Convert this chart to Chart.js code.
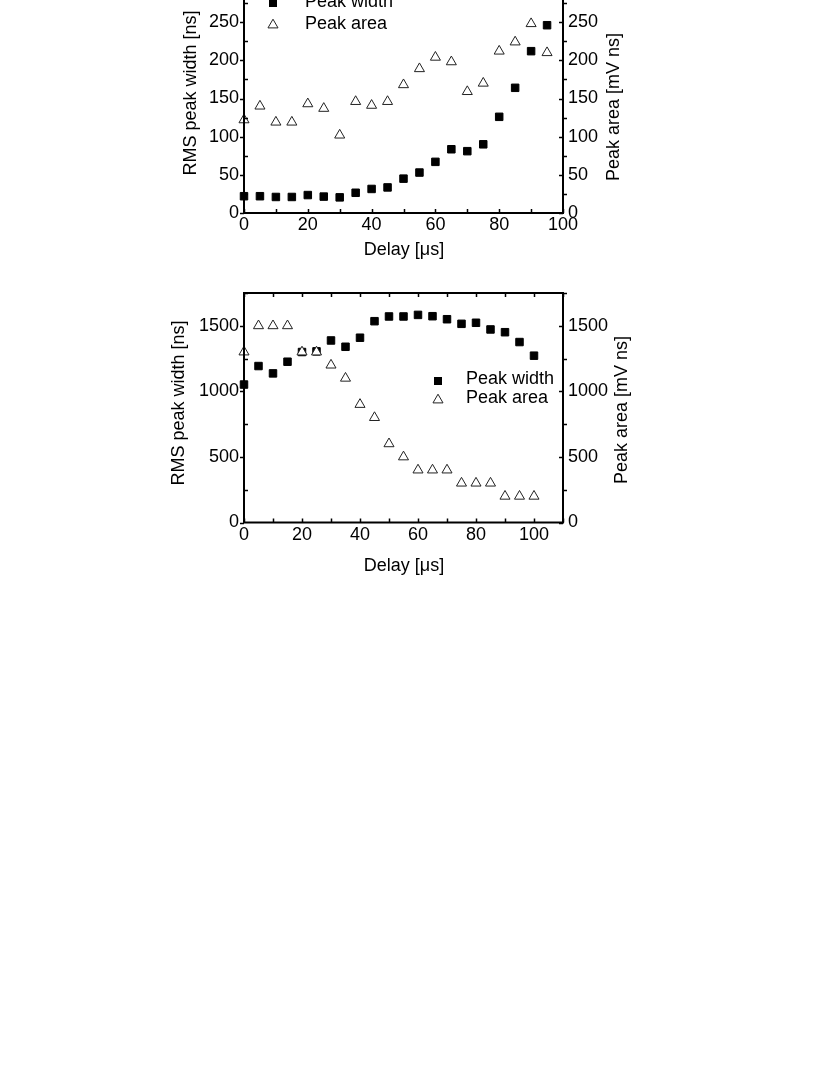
<!DOCTYPE html>
<html><head><meta charset="utf-8">
<script src="https://cdn.jsdelivr.net/npm/chart.js@4/dist/chart.umd.min.js"></script>
<style>
html,body{margin:0;padding:0;background:#fff;width:830px;height:1075px;overflow:hidden;position:relative}
.box{position:absolute;left:0;width:830px}
#c1box{top:-40px;height:320px}
#c2box{top:270px;height:330px}
</style></head><body>
<div class="box" id="c1box"><canvas id="c1"></canvas></div>
<div class="box" id="c2box"><canvas id="c2"></canvas></div>
<script>
// ---- data (top panel) ----
const delays1 = [0,5,10,15,20,25,30,35,40,45,50,55,60,65,70,75,80,85,90,95];
const peakWidth1 = [22,22,21,21,23.5,21.5,20.5,26.5,31.5,33.5,45,53,67,83.5,81,90,126,164,212,246];
const peakArea1 = [122,140,119,119,143,137,102,146,141,146,168,189,204,198,159,170,212,224,248,210];
// ---- data (bottom panel) ----
const delays2 = [0,5,10,15,20,25,30,35,40,45,50,55,60,65,70,75,80,85,90,95,100];
const peakWidth2 = [1052,1193,1137,1226,1300,1305,1388,1340,1409,1535,1571,1571,1583,1573,1550,1515,1523,1472,1451,1376,1272];
const peakArea2 = [1300,1500,1500,1500,1300,1300,1200,1100,900,800,600,500,400,400,400,300,300,300,200,200,200];
// ---- tick labels ----
const xTicks1 = [0,20,40,60,80,100];
const yTicks1 = [0,50,100,150,200,250,300];
const xTicks2 = [0,20,40,60,80,100];
const yTicks2 = [0,500,1000,1500];
// ---- labels ----
const seriesNames = ['Peak width', 'Peak area'];
const xTitle = 'Delay [\u03bcs]';
const yTitle = 'RMS peak width [ns]';
const y2Title = 'Peak area [mV ns]';

const FONT = '"Liberation Sans", Arial, Helvetica, sans-serif';
const tickFont = {family: FONT, size: 18};

function pts(xs, ys){ return xs.map((x,i)=>({x:x, y:ys[i]})); }

function decor(o){
  return {
    id: 'decor',
    afterDatasetsDraw(chart){
      const ctx = chart.ctx, a = chart.chartArea;
      const xs = chart.scales.x, ys = chart.scales.y, y2 = chart.scales.y2;
      ctx.save();
      ctx.strokeStyle = '#000';
      ctx.lineWidth = 1.5;
      ctx.beginPath();
      for (let v = xs.min; v <= xs.max + 1e-9; v += o.xMinor){
        const px = Math.round(xs.getPixelForValue(v)) + 0.5;
        ctx.moveTo(px, a.bottom); ctx.lineTo(px, a.bottom - 4);
        ctx.moveTo(px, a.top); ctx.lineTo(px, a.top + 4);
      }
      for (let v = ys.min; v <= ys.max + 1e-9; v += o.yMinor){
        const major = Math.abs(v / o.yMajor - Math.round(v / o.yMajor)) < 1e-6;
        const py = Math.round(ys.getPixelForValue(v)) + 0.5;
        if (major){ ctx.moveTo(a.left, py); ctx.lineTo(a.left - 4, py); }
        else { ctx.moveTo(a.left, py); ctx.lineTo(a.left + 4, py); }
        const qy = Math.round(y2.getPixelForValue(v)) + 0.5;
        if (major){ ctx.moveTo(a.right, qy); ctx.lineTo(a.right - 4, qy); }
        else { ctx.moveTo(a.right, qy); ctx.lineTo(a.right + 4, qy); }
      }
      ctx.stroke();
      ctx.lineWidth = 2;
      ctx.strokeRect(a.left, a.top, a.right - a.left, a.bottom - a.top);
      ctx.restore();
    },
    afterDraw(chart){
      const ctx = chart.ctx, off = o.offset;
      ctx.save();
      ctx.fillStyle = '#000';
      ctx.font = '18px ' + FONT;
      ctx.textBaseline = 'middle';
      ctx.textAlign = 'center';
      ctx.fillText(xTitle, o.xt[0], o.xt[1] - off);
      ctx.save(); ctx.translate(o.yt[0], o.yt[1] - off); ctx.rotate(-Math.PI/2);
      ctx.fillText(yTitle, 0, 0); ctx.restore();
      ctx.save(); ctx.translate(o.y2t[0], o.y2t[1] - off); ctx.rotate(-Math.PI/2);
      ctx.fillText(y2Title, 0, 0); ctx.restore();
      const L = o.legend;
      ctx.textAlign = 'left';
      ctx.fillStyle = '#000';
      ctx.fillRect(L.mx - 4, L.y1 - off - 4 + L.dy, 8, 8);
      ctx.fillText(seriesNames[0], L.tx, L.y1 - off);
      const ty = L.y2 - off + L.dy, r = 5.8;
      ctx.beginPath();
      ctx.moveTo(L.mx, ty - r);
      ctx.lineTo(L.mx + r*0.866, ty + r/2);
      ctx.lineTo(L.mx - r*0.866, ty + r/2);
      ctx.closePath();
      ctx.fillStyle = '#fff'; ctx.fill();
      ctx.strokeStyle = '#222'; ctx.lineWidth = 1; ctx.stroke();
      ctx.fillStyle = '#000';
      ctx.fillText(seriesNames[1], L.tx, L.y2 - off);
      ctx.restore();
    }
  };
}

function setTicks(arr){ return function(s){ s.ticks = arr.map(v => ({value: v})); }; }

function makeChart(id, xsArr, wArr, aArr, o){
  const yAxis = (pos, w) => ({
    type: 'linear', position: pos, min: 0, max: o.yMax,
    grid: {display: false, drawTicks: false}, border: {display: false},
    ticks: {color: '#000', font: tickFont, padding: 5, callback: v => String(v)},
    afterBuildTicks: setTicks(o.yTicks),
    afterFit(s){ s.width = w; }
  });
  return new Chart(document.getElementById(id), {
    type: 'scatter',
    data: {
      datasets: [
        {label: seriesNames[1], data: pts(xsArr, aArr), yAxisID: 'y2', order: 0,
         pointStyle: 'triangle', pointRadius: 5.8, pointBackgroundColor: '#fff',
         pointBorderColor: '#222', pointBorderWidth: 1, showLine: false, clip: false},
        {label: seriesNames[0], data: pts(xsArr, wArr), yAxisID: 'y', order: 1,
         pointStyle: 'rect', pointRadius: 5.3, pointBackgroundColor: '#000',
         pointBorderColor: '#000', pointBorderWidth: 1, showLine: false, clip: false}
      ]
    },
    options: {
      responsive: true, maintainAspectRatio: false, animation: false,
      events: [],
      layout: {padding: {top: o.padTop, left: 0, right: 0, bottom: 0}},
      plugins: {legend: {display: false}, tooltip: {enabled: false}},
      scales: {
        x: {type: 'linear', position: 'bottom', min: 0, max: o.xMax,
            grid: {display: false, drawTicks: false}, border: {display: false},
            ticks: {autoSkip: false, maxRotation: 0, color: '#000', font: tickFont,
                    padding: o.xPad, callback: v => String(v)},
            afterBuildTicks: setTicks(o.xTicks),
            afterFit(s){ s.height = o.xH; }},
        y: yAxis('left', 244),
        y2: yAxis('right', 267)
      }
    },
    plugins: [decor(o)]
  });
}

makeChart('c1', delays1, peakWidth1, peakArea1, {
  offset: -40, padTop: 24, xH: 67, xMax: 100, yMax: 300, yMajor: 50, yMinor: 25, xMinor: 10, xPad: 1,
  xTicks: xTicks1, yTicks: yTicks1,
  xt: [404, 250], yt: [191, 93], y2t: [614, 107],
  legend: {mx: 273, tx: 305, y1: 2, y2: 24, dy: 1}
});
makeChart('c2', delays2, peakWidth2, peakArea2, {
  offset: 270, padTop: 23, xH: 77.5, xMax: 110, yMax: 1750, yMajor: 500, yMinor: 250, xMinor: 10, xPad: 2,
  xTicks: xTicks2, yTicks: yTicks2,
  xt: [404, 566], yt: [179, 403], y2t: [622, 410],
  legend: {mx: 438, tx: 466, y1: 379, y2: 398, dy: 2}
});
</script>
</body></html>
